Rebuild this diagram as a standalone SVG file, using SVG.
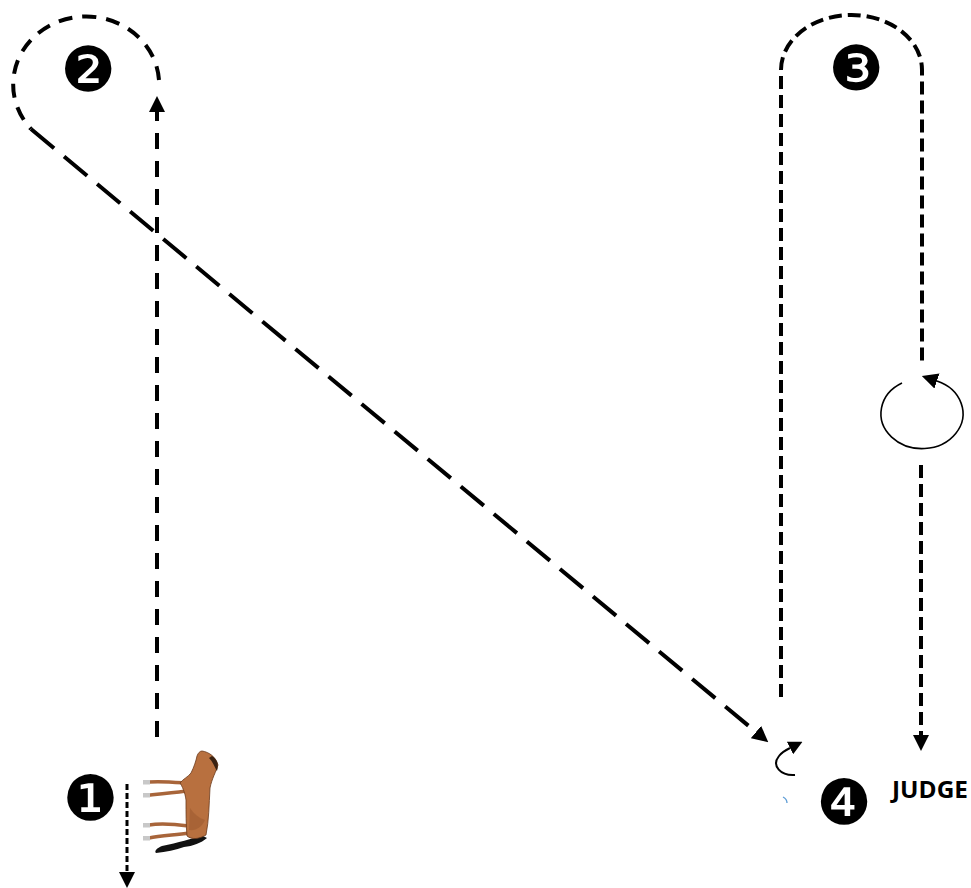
<svg xmlns="http://www.w3.org/2000/svg" width="971" height="888" viewBox="0 0 971 888">
<style>
.c{fill:none;stroke:#000;stroke-width:4}
.n{font-family:"DejaVu Sans",sans-serif;font-size:62px;fill:#000;text-anchor:middle}
.lbl{font-family:"Open Sans","Liberation Sans",sans-serif;font-weight:bold;font-size:23px;fill:#000}
</style>
<defs>
<marker id="ah" viewBox="0 0 16 16" refX="0" refY="8" markerWidth="16" markerHeight="16" markerUnits="userSpaceOnUse" orient="auto"><path d="M0,0 L16,8 L0,16 z" fill="#000"/></marker>
<marker id="ah2" viewBox="0 0 14 14" refX="0" refY="7" markerWidth="14" markerHeight="14" markerUnits="userSpaceOnUse" orient="auto"><path d="M0,0 L14,7 L0,14 z" fill="#000"/></marker>
</defs>
<rect width="971" height="888" fill="#fff"/>
<g id="connectors">
<path class="c" d="M157,737 L157,112" stroke-dasharray="16 12" marker-end="url(#ah)"/>
<path class="c" d="M159,80 A73,68 0 1 0 31,129" stroke-dasharray="14 10"/>
<path class="c" d="M31,129 L756,732" stroke-dasharray="30 13" marker-end="url(#ah)"/>
<path class="c" d="M781,697 L781,70 A70.5,55 0 0 1 922,70 L922,366" stroke-dasharray="13 6"/>
<path fill="none" stroke="#000" stroke-width="1.6" d="M902,383 A41,35 0 1 0 937,381" marker-end="url(#ah)"/>
<path class="c" d="M921,465 L921,735" stroke-dasharray="13 6" marker-end="url(#ah)"/>
<path fill="none" stroke="#000" stroke-width="3" d="M127,784 L127,872" stroke-dasharray="6 3" marker-end="url(#ah)"/>
<path fill="none" stroke="#000" stroke-width="2" d="M795,775 C781,776 771,766 779,756 C782,752 786,750 790,748" marker-end="url(#ah2)"/>
<path fill="none" stroke="#5b9bd5" stroke-width="1.3" d="M783,797 Q787,799 787,803"/>
</g>
<g id="horse">
<g fill="none" stroke="#a8653a" stroke-width="3.5" stroke-linecap="round">
<path d="M186,783 C172,782 160,781 149,782"/>
<path d="M186,791 C172,793 160,794 149,795"/>
<path d="M189,826 C174,824 160,823 149,825"/>
<path d="M189,833 C174,835 160,836 149,838"/>
</g>
<g fill="#c8c8c8">
<rect x="143" y="780" width="7" height="4.5"/>
<rect x="143" y="793" width="7" height="4.5"/>
<rect x="143" y="823" width="7" height="4.5"/>
<rect x="143" y="836" width="7" height="4.5"/>
</g>
<path d="M203,836 C192,838 178,843 162,846 C157,848 154,851 156,853 C166,852 176,850 184,847 C193,846 201,843 207,838 Z" fill="#111"/>
<path d="M202,751 C209,752 216,757 218,765 C216,772 212,778 210,788 C209,805 209,820 206,835 C199,839 192,840 187,836 C186,826 186,812 186,800 C185,792 182,786 180,783 C183,779 188,777 191,773 C194,767 196,761 197,756 C198,753 200,751 202,751 Z" fill="#b8703f" stroke="#6b3a1c" stroke-width="0.8"/>
<path d="M190,808 C194,814 199,818 205,820 C202,827 196,831 189,830 Z" fill="#9a5a30" opacity="0.55"/>
<path d="M212,756 C217,759 219,764 217,771 C215,768 213,762 209,758 Z" fill="#3a2212"/>
</g>
<g id="n1"><text class="n" x="90.5" y="819.5">❶</text></g>
<g id="n2"><text class="n" x="88" y="90.5">❷</text></g>
<g id="n3"><text class="n" x="856" y="89.5">❸</text></g>
<g id="n4"><text class="n" x="844" y="823.5">❹</text></g>
<g id="judge"><text class="lbl" x="892" y="798" textLength="76" lengthAdjust="spacingAndGlyphs">JUDGE</text></g>
</svg>
